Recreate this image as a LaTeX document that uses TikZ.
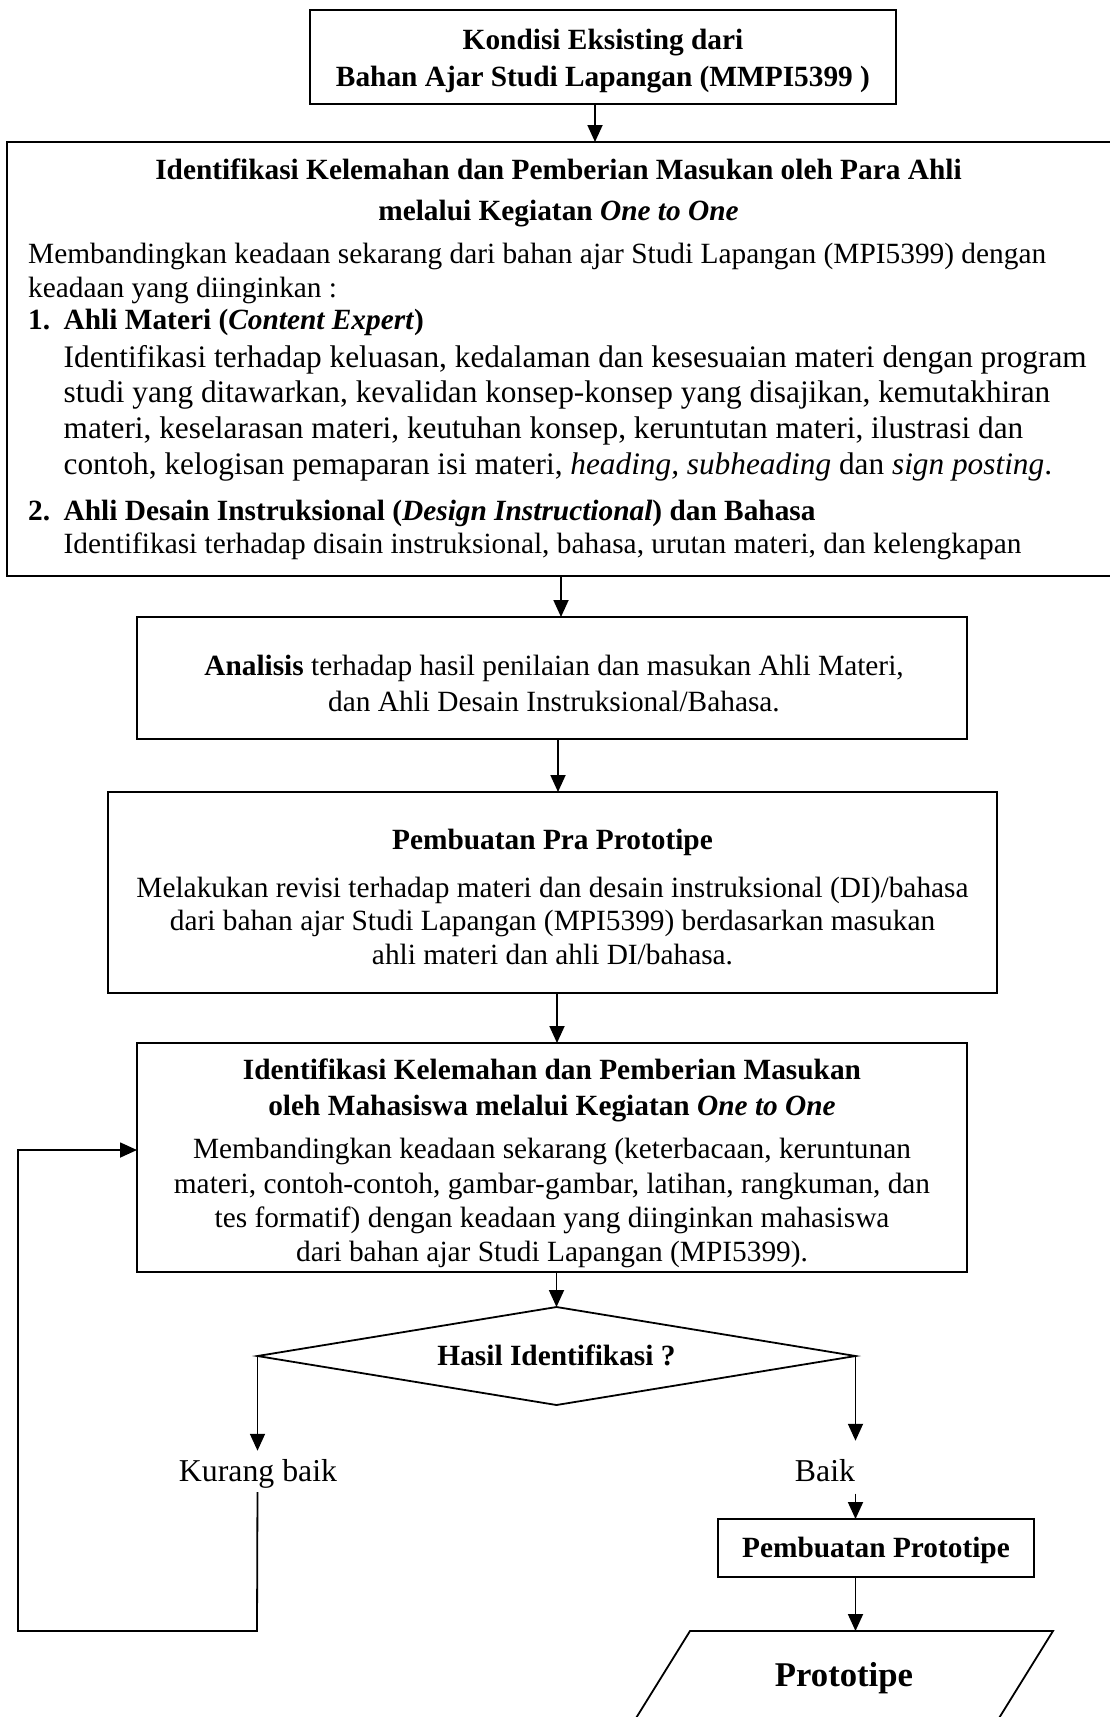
\documentclass[tikz,border=0pt]{standalone}
\usepackage{fontspec}
\setmainfont{Liberation Serif}
\usetikzlibrary{arrows.meta,shapes.geometric}
\newcommand{\fszA}{\fontsize{29.35}{34}\selectfont}
\newcommand{\fszB}{\fontsize{31.3}{36}\selectfont}
\newcommand{\fszC}{\fontsize{31.8}{36}\selectfont}
\newcommand{\fszD}{\fontsize{34.7}{40}\selectfont}
\begin{document}
\begin{tikzpicture}[x=1pt,y=-1pt,
  box/.style={draw, line width=1.8pt, rectangle, inner sep=0pt, outer sep=0pt},
  arr/.style={line width=1.8pt, -{Triangle[length=17pt,width=15pt]}},
  tc/.style={inner sep=0pt, anchor=base, font=\fszA},
  tl/.style={inner sep=0pt, anchor=base west, font=\fszA},
]
\useasboundingbox (0,0) rectangle (1110,1717);

% ---------- boxes ----------
\node[box, minimum width=586pt, minimum height=94pt] (b1) at (603,57) {};
\node[box, minimum width=1105pt, minimum height=434pt] (b2) at (559.5,359) {};
\node[box, minimum width=830pt, minimum height=122pt] (b3) at (552,678) {};
\node[box, minimum width=889pt, minimum height=201pt] (b4) at (552.5,892.5) {};
\node[box, minimum width=830pt, minimum height=229pt] (b5) at (552,1157.5) {};
\node[draw, diamond, line width=1.8pt, inner sep=0pt, outer sep=0pt, aspect=6,
      minimum width=598pt, minimum height=98pt] (dia) at (556.5,1356) {};
\node[box, minimum width=316pt, minimum height=58pt] (b6) at (876,1548) {};

% ---------- box 1 text ----------
\node[tc, font=\fszA\bfseries] (t1a) at (603,49) {Kondisi Eksisting dari};
\node[tc, font=\fszA\bfseries] (t1b) at (603,86) {Bahan Ajar Studi Lapangan (MMPI5399 )};

% ---------- box 2 text ----------
\node[tc, font=\fszA\bfseries] (t2a) at (558.5,179) {Identifikasi Kelemahan dan Pemberian Masukan oleh Para Ahli};
\node[tc, font=\fszA\bfseries] (t2b) at (558.5,220) {melalui Kegiatan \textit{One to One}};
\node[tl] (t2c) at (28,263) {Membandingkan keadaan sekarang dari bahan ajar Studi Lapangan (MPI5399) dengan};
\node[tl] (t2d) at (28,297) {keadaan yang diinginkan :};
\node[tl, font=\fszA\bfseries] (t2e) at (28,329) {1.};
\node[tl, font=\fszA\bfseries] (t2f) at (63.5,329) {Ahli Materi (\textit{Content Expert})};
\node[tl, font=\fszB] (t2g) at (63.5,367) {Identifikasi terhadap keluasan, kedalaman dan kesesuaian materi dengan program};
\node[tl, font=\fszB] (t2h) at (63.5,402) {studi yang ditawarkan, kevalidan konsep-konsep yang disajikan, kemutakhiran};
\node[tl, font=\fszB] (t2i) at (63.5,438) {materi, keselarasan materi, keutuhan konsep, keruntutan materi, ilustrasi dan};
\node[tl, font=\fszB] (t2j) at (63.5,474) {contoh, kelogisan pemaparan isi materi, \textit{heading, subheading} dan \textit{sign posting}.};
\node[tl, font=\fszA\bfseries] (t2k) at (28,520) {2.};
\node[tl, font=\fszA\bfseries] (t2l) at (63.5,520) {Ahli Desain Instruksional (\textit{Design Instructional}) dan Bahasa};
\node[tl] (t2m) at (63.5,553) {Identifikasi terhadap disain instruksional, bahasa, urutan materi, dan kelengkapan};

% ---------- box 3 text ----------
\node[tc] (t3a) at (554,675) {\textbf{Analisis} terhadap hasil penilaian dan masukan Ahli Materi,};
\node[tc] (t3b) at (554,711) {dan Ahli Desain Instruksional/Bahasa.};

% ---------- box 4 text ----------
\node[tc, font=\fszA\bfseries] (t4a) at (552.5,849) {Pembuatan Pra Prototipe};
\node[tc] (t4b) at (552.5,897) {Melakukan revisi terhadap materi dan desain instruksional (DI)/bahasa};
\node[tc] (t4c) at (552.5,930) {dari bahan ajar Studi Lapangan (MPI5399) berdasarkan masukan};
\node[tc] (t4d) at (552.5,964) {ahli materi dan ahli DI/bahasa.};

% ---------- box 5 text ----------
\node[tc, font=\fszA\bfseries] (t5a) at (552,1079) {Identifikasi Kelemahan dan Pemberian Masukan};
\node[tc, font=\fszA\bfseries] (t5b) at (552,1115) {oleh Mahasiswa melalui Kegiatan \textit{One to One}};
\node[tc] (t5c) at (552,1158) {Membandingkan keadaan sekarang (keterbacaan, keruntunan};
\node[tc] (t5d) at (552,1193) {materi, contoh-contoh, gambar-gambar, latihan, rangkuman, dan};
\node[tc] (t5e) at (552,1227) {tes formatif) dengan keadaan yang diinginkan mahasiswa};
\node[tc] (t5f) at (552,1261) {dari bahan ajar Studi Lapangan (MPI5399).};

% ---------- decision ----------
\node[tc, font=\fszA\bfseries] (tdia) at (556.5,1365) {Hasil Identifikasi ?};
\node[tc, font=\fszC] (kb) at (258,1481) {Kurang baik};
\node[tc, font=\fszC] (bk) at (825,1481) {Baik};
\node[tc, font=\fszA\bfseries] (t6) at (876,1557) {Pembuatan Prototipe};

% ---------- output (parallelogram) ----------
\draw[line width=1.8pt] (690,1631) -- (1053,1631) -- (991,1731) -- (628,1731) -- cycle;
\coordinate (ptop) at (855,1631);
\node[tc, font=\fszD\bfseries] (tp) at (844,1686) {Prototipe};

% ---------- connectors ----------
\draw[arr] ([xshift=-8pt]b1.south) -- ([xshift=-8pt]b1.south |- b2.north);
\draw[arr] ([xshift=1.5pt]b2.south) -- ([xshift=1.5pt]b2.south |- b3.north);
\draw[arr] ([xshift=6pt]b3.south) -- ([xshift=6pt]b3.south |- b4.north);
\draw[arr] ([xshift=4.5pt]b4.south) -- ([xshift=4.5pt]b4.south |- b5.north);
\draw[arr] (dia.north |- b5.south) -- (dia.north);
\draw[arr, shorten >=8pt] (dia.west) -- (dia.west |- kb.north);
\draw[arr, shorten >=18pt] (dia.east) -- (dia.east |- bk.north);
\draw[arr, shorten <=12pt] (dia.east |- bk.south) -- (dia.east |- b6.north);
\draw[arr] (dia.east |- b6.south) -- (dia.east |- ptop);
\coordinate (lb) at (257,1631);
\coordinate (ll) at (18,1631);
\coordinate (lu) at (18,1150);
\draw[arr, shorten <=4pt] (dia.west |- kb.south) -- (lb) -- (ll) -- (lu) -- (lu -| b5.west);
\end{tikzpicture}
\end{document}
